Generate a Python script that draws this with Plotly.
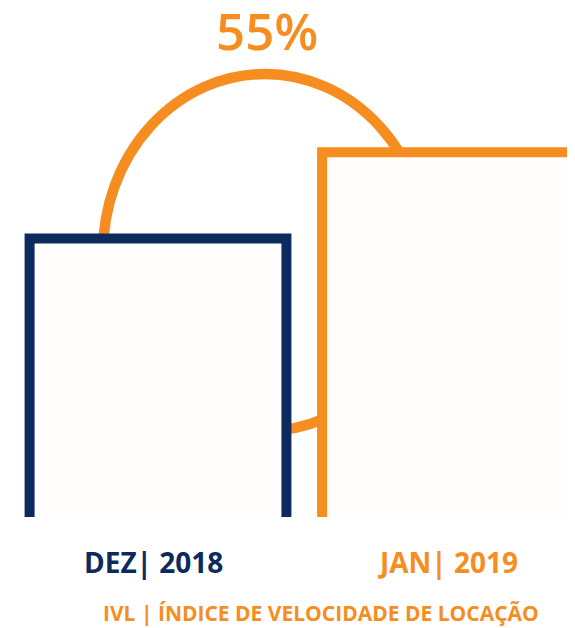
import plotly.graph_objects as go

# ---- data ----
categories = ["DEZ| 2018", "JAN| 2019"]
values = [100, 131]          # relative index level (bar heights)
change_label = "55%"
title_text = "IVL | ÍNDICE DE VELOCIDADE DE LOCAÇÃO"

# ---- style ----
NAVY = "#0C2A5E"
ORANGE = "#F68D20"
FILL = "#FFFDFB"
bar_colors = [NAVY, ORANGE]
OFF = 8          # default body margin of the html page
W, H = 575, 628
bar_w = 0.878
LW = 10

xpos = list(range(len(categories)))

def px(x):  # reference page pixel -> paper x
    return (x - OFF) / W

def py(y):  # reference page pixel -> paper y
    return 1 - (y - OFF) / H

fig = go.Figure()

# bar fills
fig.add_trace(go.Bar(x=xpos, y=values, width=bar_w, marker=dict(color=FILL, line=dict(width=0)),
                     hoverinfo="skip", showlegend=False))

# bar outlines (left, top, right; open at bottom)
for i, v in enumerate(values):
    x0, x1 = xpos[i] - bar_w / 2, xpos[i] + bar_w / 2
    fig.add_trace(go.Scatter(x=[x0, x0, x1, x1], y=[0, v, v, 0], mode="lines",
                             line=dict(color=bar_colors[i], width=LW),
                             hoverinfo="skip", showlegend=False))

# connecting ellipse (drawn beneath the bars, only visible outside them)
fig.add_shape(type="circle", xref="paper", yref="paper", layer="below",
              x0=px(265 - 162), x1=px(265 + 162),
              y0=py(252.5 + 178.5), y1=py(252.5 - 178.5),
              line=dict(color=ORANGE, width=10.5), fillcolor="rgba(0,0,0,0)")

# texts
fig.add_annotation(text=change_label, xref="paper", yref="paper", x=px(267), y=py(30),
                   showarrow=False, xanchor="center", yanchor="middle",
                   font=dict(family="Open Sans", size=51, color=ORANGE, weight=600))
label_colors = [NAVY, ORANGE]
shifts = [-5, -3]
for i, c in enumerate(categories):
    fig.add_annotation(text=c, x=xpos[i], xref="x", yref="paper", y=py(562),
                       xshift=shifts[i], showarrow=False, xanchor="center", yanchor="middle",
                       font=dict(family="Open Sans", size=28, color=label_colors[i], weight=700))
fig.add_annotation(text=title_text, xref="paper", yref="paper", x=px(321), y=py(613),
                   showarrow=False, xanchor="center", yanchor="middle",
                   font=dict(family="Open Sans", size=21, color=ORANGE, weight=700))

# axes: map so that bars sit where they do in the infographic
px_per_x = 292.5
x_center0 = 158 - OFF
px_per_y = 2.785
base_px = 517 - OFF
fig.update_xaxes(range=[-x_center0 / px_per_x, (W - x_center0) / px_per_x], visible=False, fixedrange=True)
fig.update_yaxes(range=[(base_px - H) / px_per_y, base_px / px_per_y], visible=False, fixedrange=True)

fig.update_layout(width=W, height=H, margin=dict(l=0, r=0, t=0, b=0),
                  paper_bgcolor="white", plot_bgcolor="white", showlegend=False,
                  bargap=0)

fig.write_html("out.html")
